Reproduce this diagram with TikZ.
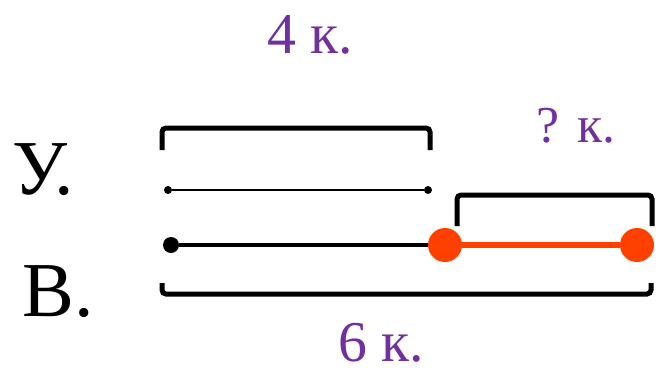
\documentclass[tikz,border=0pt]{standalone}
\usepackage{fontspec}
\setmainfont{Liberation Serif}
\usetikzlibrary{positioning}
\definecolor{lblpurple}{RGB}{112,48,160}
\definecolor{segred}{RGB}{255,64,0}
\tikzset{
  lbl/.style={text=lblpurple, inner sep=0pt, font=\fontsize{58}{64}\selectfont},
  row/.style={inner sep=0pt, font=\fontsize{78}{86}\selectfont},
  bracket/.style={line width=5bp, rounded corners=4bp},
  smalldot/.style={circle, fill=black, inner sep=0pt, minimum size=8bp},
  bigdot/.style={circle, fill=black, inner sep=0pt, minimum size=16bp},
  reddot/.style={circle, fill=segred, inner sep=0pt, minimum size=34bp}
}
\begin{document}
\begin{tikzpicture}[x=1bp, y=-1bp]
  \useasboundingbox (0,0) rectangle (656,374);

  \node[row] (ylab) at (43,170) {У.};
  \node[row] (vlab) at (58,292) {В.};

  \node[smalldot] (ya) at (168,190) {};
  \node[smalldot] (yb) at (428,190) {};
  \node[bigdot] (va) at (171,245) {};
  \node[reddot] (vb) at (445,245) {};
  \node[reddot] (vc) at (637,245) {};

  \draw[line width=2bp] (ya) -- (yb);
  \draw[line width=4bp] (va) -- (vb);
  \draw[line width=6bp, segred] (vb) -- (vc);

  % brackets
  \draw[bracket] (162,150) -- (162,128) -- (430,128) -- (430,150);
  \draw[bracket] (457,226) -- (457,195) -- (652,195) -- (652,226);
  \draw[bracket] (162,283) -- (162,294) -- (651,294) -- (651,283);

  \node[lbl] (four) at (310,35) {4 к.};
  \node[lbl, font=\fontsize{52}{58}\selectfont] (quest) at (576,126) {? к.};
  \node[lbl] (six) at (381,343) {6 к.};
\end{tikzpicture}
\end{document}
